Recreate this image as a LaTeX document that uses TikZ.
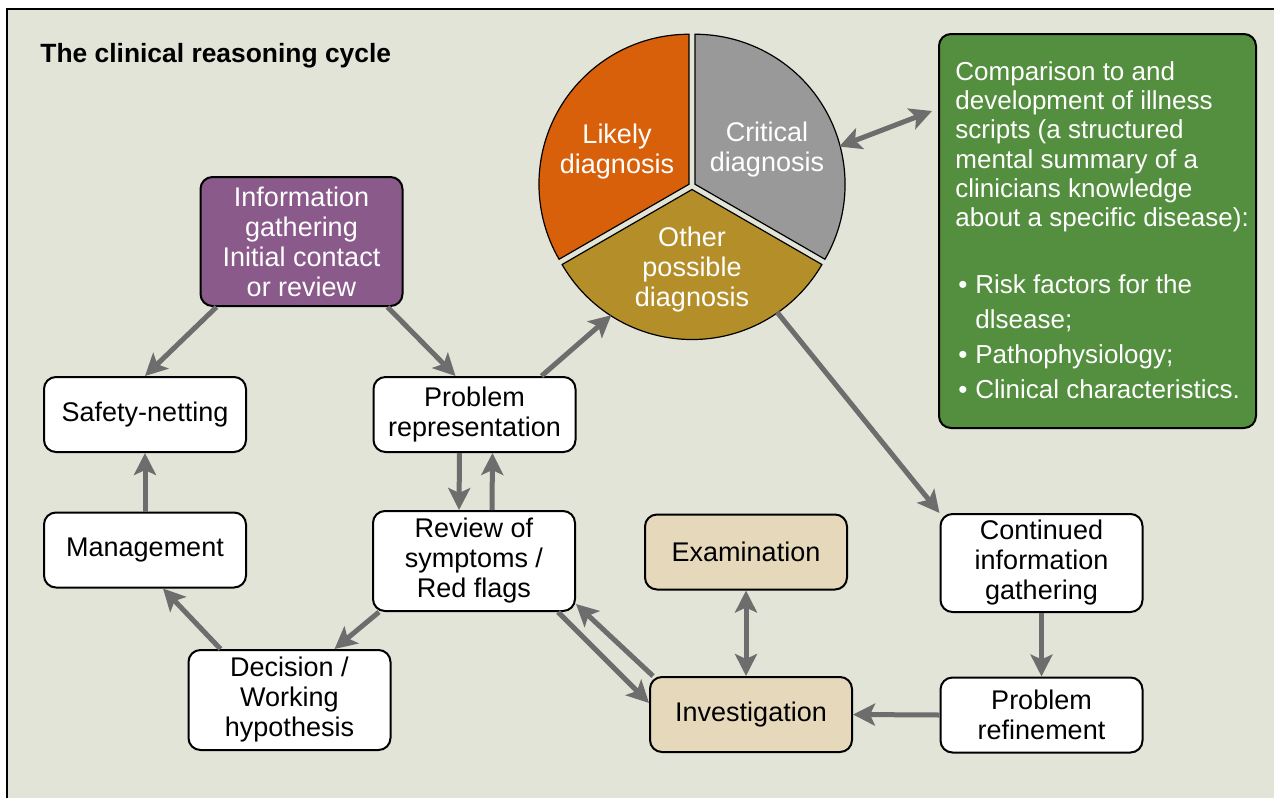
\documentclass[tikz,border=0pt]{standalone}
\usepackage{fontspec}
\setmainfont{Liberation Sans}
\usetikzlibrary{arrows.meta}

\definecolor{panel}{HTML}{E1E4D6}
\definecolor{arrowgrey}{HTML}{6D6D6D}
\definecolor{infopurple}{HTML}{8A5A8B}
\definecolor{examtan}{HTML}{E6D9BB}
\definecolor{scriptgreen}{HTML}{548E3F}
\definecolor{likelyorange}{HTML}{D9600B}
\definecolor{criticalgrey}{HTML}{999999}
\definecolor{othergold}{HTML}{B38E29}

\newcommand{\scriptbullet}{\makebox[10pt][l]{\hspace{1.5pt}\textbullet}}

\begin{document}
\begin{tikzpicture}[x=0.5pt,y=-0.5pt,
    box/.style={draw, line width=1pt, rounded corners=6pt, fill=white, align=center,
      minimum width=101pt, minimum height=37.5pt, inner sep=2pt,
      font=\fontsize{13.5}{15}\selectfont},
    flow/.style={draw=arrowgrey, line width=2.5pt, -{Stealth[length=11pt,width=11pt,inset=2.5pt]}},
    both/.style={flow, {Stealth[length=11pt,width=11pt,inset=2.5pt]}-{Stealth[length=11pt,width=11pt,inset=2.5pt]}},
    wedge/.style={draw=black, line width=0.6pt},
    wtext/.style={text=white, align=center, font=\fontsize{13.5}{15}\selectfont}]
  \useasboundingbox (0,0) rectangle (1274,798);
  \fill[white] (0,0) rectangle (1274,798);
  \fill[panel] (7,9) rectangle (1274,798);
  \draw[line width=1pt] (7,798) -- (7,9) -- (1274,9);

  \node[anchor=west, inner sep=0pt, font=\bfseries\fontsize{13.2}{15}\selectfont] (title) at (40,56) {The clinical reasoning cycle};

  % the cycle
  \node[box, fill=infopurple, text=white, minimum height=64.5pt] (info) at (301.5,241.5)
    {Information\\gathering\\Initial contact\\or review};
  \node[box] (safety) at (145,414.5) {Safety-netting};
  \node[box] (prob) at (474.5,414.5) {Problem\\representation};
  \node[box] (mgmt) at (145,550) {Management};
  \node[box, minimum height=50pt] (review) at (474,561) {Review of\\symptoms /\\Red flags};
  \node[box, minimum height=50pt] (decision) at (289.5,700) {Decision /\\Working\\hypothesis};
  \node[box, fill=examtan] (exam) at (746,552) {Examination};
  \node[box, fill=examtan] (invest) at (751,714.5) {Investigation};
  \node[box, minimum height=49pt] (cont) at (1041.5,563) {Continued\\information\\gathering};
  \node[box] (refine) at (1041.5,715) {Problem\\refinement};

  % illness scripts
  \node[draw, line width=1pt, rounded corners=6pt, fill=scriptgreen, minimum width=158.5pt,
    minimum height=197pt, anchor=north west] (green) at (938,33) {};
  \node[anchor=north west, inner sep=0pt, text=white, align=left,
    font=\fontsize{13}{14.65}\selectfont] (scripts) at (955,61)
    {Comparison to and\\
     development of illness\\
     scripts (a structured\\
     mental summary of a\\
     clinicians knowledge\\
     about a specific disease):\\[18.85pt]
     \scriptbullet Risk factors for the\\[2.85pt]
     \hspace*{10pt}dlsease;\\[2.85pt]
     \scriptbullet Pathophysiology;\\[2.85pt]
     \scriptbullet Clinical characteristics.};

  % diagnosis pie
  \node[circle, minimum size=152pt, inner sep=0pt] (pie) at (692,186) {};
  \begin{scope}[shift={(692,186)}, yscale=-1]
    \filldraw[wedge, fill=likelyorange, shift={(150:3.5)}] (0,0) -- (90:150)
      arc[start angle=90, end angle=210, radius=150] -- cycle;
    \filldraw[wedge, fill=othergold, shift={(270:3.5)}] (0,0) -- (210:150)
      arc[start angle=210, end angle=330, radius=150] -- cycle;
    \filldraw[wedge, fill=criticalgrey, shift={(30:3.5)}] (0,0) -- (-30:150)
      arc[start angle=-30, end angle=90, radius=150] -- cycle;
  \end{scope}
  \node[wtext] (likely) at (617,152) {Likely\\diagnosis};
  \node[wtext] (critical) at (767,150) {Critical\\diagnosis};
  \node[wtext] (other) at (692,270) {Other\\possible\\diagnosis};

  \draw[flow] ([xshift=8.5pt]info.south west) -- (safety.north);
  \draw[flow] ([xshift=-8pt]info.south east) -- ([xshift=-9.5pt]prob.north);
  \draw[flow] ([xshift=-17.5pt]prob.north east) -- (pie.238);
  \draw[flow] (pie.304) -- (cont.north west);
  \draw[both] (pie.15) -- ([xshift=-3pt,yshift=60pt]green.west);
  \draw[flow] ([xshift=-7.5pt]prob.south) -- ([xshift=-7.5pt]review.north);
  \draw[flow] ([xshift=9pt]review.north) -- ([xshift=9pt]prob.south);
  \draw[flow] (mgmt.north) -- (safety.south);
  \draw[flow] ([xshift=16.5pt]decision.north west) -- ([xshift=9pt]mgmt.south);
  \draw[flow] ([xshift=3.5pt]review.south west) -- ([xshift=-28.5pt]decision.north east);
  \draw[flow] ([xshift=-9pt]review.south east) -- ([yshift=5.75pt]invest.west);
  \draw[flow] ([xshift=2pt]invest.north west) -- ([yshift=4pt]review.south east);
  \draw[both] (exam.south) -- (exam.south |- invest.north);
  \draw[flow] (cont.south) -- (refine.north);
  \draw[flow] (refine.west) -- (invest.east);
\end{tikzpicture}
\end{document}
